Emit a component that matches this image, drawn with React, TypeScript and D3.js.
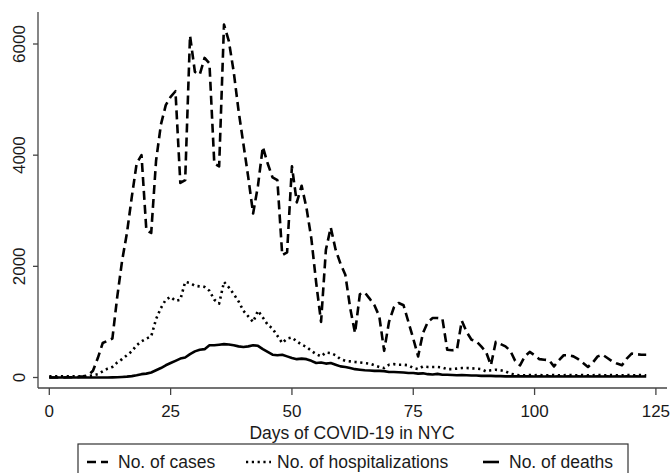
import React from "react";
import * as d3 from "d3";

const width = 671;
const height = 473;

// daily counts, day 0 .. 123
const cases = [
  0, 0, 0, 0, 5, 5, 10, 20, 40, 120,
  350, 620, 660, 700, 1450, 2100, 2600, 3250, 3850, 4000,
  2650, 2600, 3900, 4550, 4900, 5050, 5150, 3500, 3550, 6150,
  5500, 5450, 5750, 5650, 3850, 3800, 6350, 6050, 5500, 4800,
  4200, 3600, 2950, 3450, 4150, 3850, 3600, 3550, 2200, 2250,
  3800, 3150, 3450, 3050, 2500, 1700, 1000, 2300, 2700, 2300,
  2050, 1850, 1250, 800, 1500, 1530, 1420, 1300, 1100, 480,
  1000, 1260, 1340, 1300, 1000, 700, 380, 800, 1000, 1070,
  1070, 1060, 500, 490, 500, 1020, 820, 680, 650, 560,
  460, 220, 640, 600, 560, 480, 300, 220, 380, 460,
  400, 330, 320, 310, 200, 310, 400, 400, 380, 330,
  260, 190, 270, 380, 410, 350, 290, 250, 220, 340,
  430, 420, 410, 410,
];

const hospitalizations = [
  20, 20, 20, 20, 20, 20, 20, 20, 25, 40,
  60, 110, 160, 190, 270, 330, 400, 470, 580, 650,
  700, 740, 1050, 1250, 1400, 1450, 1380, 1400, 1720, 1700,
  1650, 1640, 1630, 1560, 1400, 1330, 1720, 1620, 1500, 1370,
  1200, 1100, 1000, 1200, 1080, 950, 880, 750, 620, 700,
  720, 650, 590, 550, 480, 420, 380, 450, 440, 400,
  330, 300, 290, 280, 270, 260, 250, 220, 190, 170,
  230, 240, 230, 230, 220, 170, 150, 200, 190, 190,
  190, 180, 150, 150, 160, 170, 170, 165, 160, 150,
  110, 130, 140, 130, 110, 70, 50, 40, 40, 45,
  40, 45, 40, 40, 45, 40, 40, 45, 40, 40,
  45, 40, 40, 45, 40, 40, 45, 40, 40, 45,
  40, 40, 45, 40,
];

const deaths = [
  0, 0, 0, 0, 0, 0, 0, 0, 0, 0,
  0, 0, 0, 2, 5, 10, 15, 25, 40, 60,
  70, 90, 130, 170, 220, 260, 300, 340, 360, 420,
  470, 500, 510, 580, 580, 590, 600, 595, 580, 560,
  550, 560, 580, 570, 510, 460, 410, 400, 410, 380,
  350, 330, 340, 330, 300, 260, 270, 250, 260, 230,
  200, 190, 170, 150, 140, 130, 125, 120, 120, 115,
  100, 100, 95, 90, 80, 80, 70, 75, 60, 55,
  65, 50, 50, 45, 40, 45, 40, 35, 35, 30,
  30, 30, 25, 25, 20, 20, 20, 20, 20, 20,
  18, 20, 18, 20, 18, 20, 18, 20, 18, 20,
  18, 20, 18, 20, 18, 20, 18, 20, 18, 20,
  18, 20, 18, 20,
];

const xTicks = [0, 25, 50, 75, 100, 125];
const yTicks = [0, 2000, 4000, 6000];

const series = [
  { label: "No. of cases", values: cases, dash: "9 5" },
  { label: "No. of hospitalizations", values: hospitalizations, dash: "2.2 3.6" },
  { label: "No. of deaths", values: deaths, dash: "none" },
];

const font = "'Liberation Sans', Arial, sans-serif";

export default function App() {
  const x = d3.scaleLinear().domain([0, 125]).range([49.3, 655.9]);
  const y = d3.scaleLinear().domain([0, 6000]).range([377.5, 44]);

  const line = d3
    .line<number>()
    .x((_, i) => x(i))
    .y((d) => y(d));

  const axisY = 388;
  const axisX = 38;

  // legend sample / text positions
  const legendItems = [
    { x1: 87, x2: 108, tx: 118 },
    { x1: 246, x2: 271, tx: 277 },
    { x1: 483, x2: 499, tx: 509 },
  ];

  return (
    <svg
      width={width}
      height={height}
      style={{ position: "absolute", left: 0, top: 0, background: "#fff" }}
      fontFamily={font}
    >
      <rect width={width} height={height} fill="#fff" />

      {/* axes */}
      <line x1={axisX} x2={axisX} y1={12} y2={axisY} stroke="#444" strokeWidth={1.3} />
      <line x1={axisX} x2={667} y1={axisY} y2={axisY} stroke="#444" strokeWidth={1.3} />

      {yTicks.map((t) => (
        <g key={"y" + t}>
          <line x1={33} x2={axisX} y1={y(t)} y2={y(t)} stroke="#444" strokeWidth={1.3} />
          <text
            transform={`translate(25,${y(t)}) rotate(-90)`}
            textAnchor="middle"
            fontSize={17}
            fill="#1a1a1a"
          >
            {t}
          </text>
        </g>
      ))}

      {xTicks.map((t) => (
        <g key={"x" + t}>
          <line x1={x(t)} x2={x(t)} y1={axisY} y2={395} stroke="#444" strokeWidth={1.3} />
          <text x={x(t)} y={417} textAnchor="middle" fontSize={17} fill="#1a1a1a">
            {t}
          </text>
        </g>
      ))}

      <text x={352} y={439} textAnchor="middle" fontSize={17.5} fill="#1a1a1a">
        Days of COVID-19 in NYC
      </text>

      {/* lines */}
      {series.map((s) => (
        <path
          key={s.label}
          d={line(s.values) || ""}
          fill="none"
          stroke="#000"
          strokeWidth={2.6}
          strokeDasharray={s.dash}
          strokeLinejoin="round"
        />
      ))}

      {/* legend */}
      <rect x={78} y={444} width={550} height={40} fill="#fff" stroke="#333" strokeWidth={1.2} />
      {series.map((s, i) => (
        <g key={"leg" + s.label}>
          <line
            x1={legendItems[i].x1}
            x2={legendItems[i].x2}
            y1={462}
            y2={462}
            stroke="#000"
            strokeWidth={2.6}
            strokeDasharray={s.dash}
          />
          <text x={legendItems[i].tx} y={468} fontSize={17.5} fill="#1a1a1a">
            {s.label}
          </text>
        </g>
      ))}
    </svg>
  );
}
